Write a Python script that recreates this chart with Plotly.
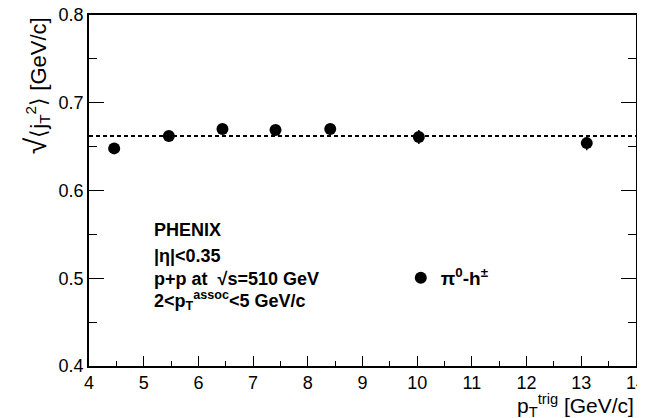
import plotly.graph_objects as go

# pT trigger bins and sqrt(<jT^2>) values
pt_trig = [4.46, 5.46, 6.44, 7.41, 8.41, 10.03, 13.10]
jt_rms = [0.648, 0.662, 0.670, 0.669, 0.670, 0.661, 0.654]
jt_err = [0.004, 0.004, 0.004, 0.004, 0.004, 0.008, 0.008]

fit_x = [4, 14]
fit_level = 0.662

FONT = "Liberation Sans, Arial, sans-serif"

fig = go.Figure()

fig.add_trace(go.Scatter(
    x=fit_x,
    y=[fit_level] * len(fit_x),
    mode="lines",
    line=dict(color="black", width=2, dash="4px,3px"),
    showlegend=False,
    hoverinfo="skip",
))

fig.add_trace(go.Scatter(
    x=pt_trig,
    y=jt_rms,
    mode="markers",
    marker=dict(color="black", size=12),
    error_y=dict(type="data", array=jt_err, color="black", thickness=1.5, width=0),
    name="<b>π<sup>0</sup>-h<sup>±</sup></b>",
))

labels = [
    ("<b>PHENIX</b>", 0.555),
    ("<b>|η|<0.35</b>", 0.5255),
    ("<b>p+p at  √s=510 GeV</b>", 0.499),
    ("<b>2<p<sub>T</sub><sup>assoc</sup><5 GeV/c</b>", 0.4745),
]
for text, y in labels:
    fig.add_annotation(
        x=5.146, y=y, text=text, showarrow=False,
        xanchor="left", yanchor="middle",
        font=dict(family=FONT, size=18, color="black"),
    )

fig.add_annotation(
    xref="paper", yref="paper", x=1.0, y=-0.113,
    text="p<sub>T</sub><sup>trig</sup> [GeV/c]", showarrow=False,
    xanchor="right", yanchor="middle",
    font=dict(family=FONT, size=21, color="black"),
)
fig.add_annotation(
    xref="paper", yref="paper", x=-0.097, y=0.80,
    text="<span style='font-size:30px'>√</span>⟨j<sub>T</sub><sup>2</sup>⟩ [GeV/c]",
    showarrow=False,
    textangle=-90, xanchor="center", yanchor="middle",
    font=dict(family=FONT, size=22, color="black"),
)

fig.update_xaxes(
    range=[4, 14], dtick=1, tick0=4,
    ticks="inside", ticklen=10, tickwidth=1, tickcolor="black",
    minor=dict(dtick=0.5, ticks="inside", ticklen=5, tickcolor="black"),
    showline=True, linecolor="black", linewidth=1.5, mirror=True,
    showgrid=False, zeroline=False,
    ticklabeloverflow="allow", automargin=False,
    tickfont=dict(family=FONT, size=18, color="black"),
)
fig.update_yaxes(
    range=[0.4, 0.8], dtick=0.1, tick0=0.4, tickformat=".1f",
    ticks="inside", ticklen=15, tickwidth=1, tickcolor="black",
    minor=dict(dtick=0.05, ticks="inside", ticklen=8, tickcolor="black"),
    showline=True, linecolor="black", linewidth=1.5, mirror="ticks",
    showgrid=False, zeroline=False,
    ticklabeloverflow="allow", automargin=False,
    tickfont=dict(family=FONT, size=18, color="black"),
)

# page body adds an 8px offset, so the figure is shrunk to fit the window
fig.update_layout(
    width=637, height=410,
    margin=dict(l=81, r=9, t=7, b=52),
    plot_bgcolor="white", paper_bgcolor="white",
    font=dict(family=FONT, color="black"),
    legend=dict(
        x=0.570, y=0.251, xanchor="left", yanchor="middle",
        bgcolor="rgba(0,0,0,0)",
        font=dict(family=FONT, size=19, color="black"),
    ),
)

fig.write_html("out.html")
